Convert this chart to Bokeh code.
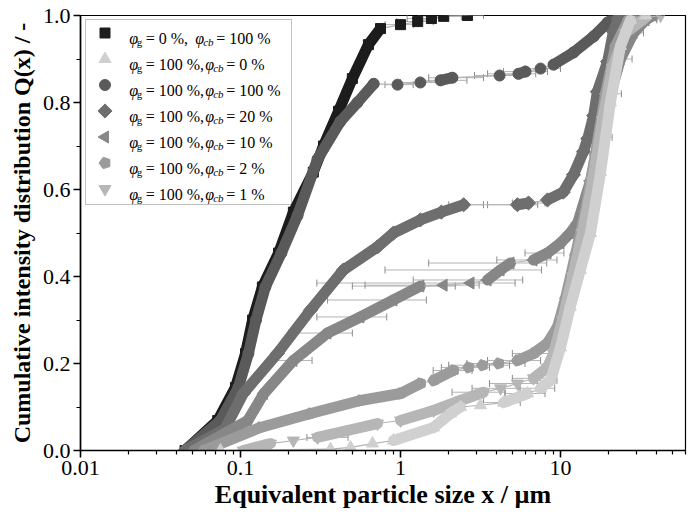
import math
from bokeh.plotting import figure
from bokeh.models import (Range1d, FixedTicker, ColumnDataSource, Whisker, TeeHead,
                          Label, BoxAnnotation, NumeralTickFormatter)
from bokeh.embed import file_html
from bokeh.resources import INLINE

# ---------------- data ----------------
# phi_g = 0 %, phi_cb = 100 %  (squares)
sq_x = [0.045, 0.072, 0.093, 0.1075, 0.119, 0.137, 0.173, 0.214, 0.285, 0.33, 0.41, 0.50, 0.63, 0.75, 1.0, 1.28, 1.56, 1.86, 2.62]
sq_y = [0.0, 0.069, 0.145, 0.223, 0.30, 0.376, 0.454, 0.548, 0.64, 0.70, 0.78, 0.855, 0.933, 0.97, 0.979, 0.986, 0.993, 0.998, 1.0]
sq_err_y = [0.979, 0.986, 0.993, 0.998, 1.0]
sq_err_lo = [0.8, 0.95, 1.1, 1.3, 2.0]
sq_err_hi = [1.2, 1.6, 2.0, 2.4, 3.3]

# phi_g = 100 %, phi_cb = 0 %  (up triangles)
ut_x = [0.075, 0.365, 0.487, 0.668, 0.904, 1.61, 2.05, 2.37, 3.16, 4.40, 6.22, 7.5, 8.66, 10.0, 11.5, 13.3, 15.4, 17.8, 20.5, 23.7, 27.4, 34.0]
ut_y = [0.0, 0.003, 0.007, 0.016, 0.023, 0.053, 0.085, 0.10, 0.104, 0.11, 0.131, 0.143, 0.161, 0.237, 0.33, 0.415, 0.5, 0.64, 0.8, 0.93, 0.99, 1.0]
ut_err_y = [0.11, 0.131, 0.143, 0.161]
ut_err_lo = [3.3, 4.5, 5.5, 6.8]
ut_err_hi = [5.6, 8.0, 9.2, 9.5]

# phi_g = 100 %, phi_cb = 100 %  (circles)
ci_x = [0.045, 0.075, 0.097, 0.112, 0.125, 0.143, 0.18, 0.227, 0.303, 0.42, 0.538, 0.68, 0.958, 1.33, 1.78, 2.11, 4.16, 5.46, 6.04, 7.5, 9.04, 12.05, 16.1, 19.7, 23.0]
ci_y = [0.0, 0.069, 0.145, 0.223, 0.30, 0.376, 0.454, 0.54, 0.67, 0.756, 0.80, 0.843, 0.841, 0.846, 0.851, 0.857, 0.862, 0.866, 0.871, 0.878, 0.887, 0.915, 0.952, 0.984, 1.0]
ci_err_y = [0.841, 0.846, 0.851, 0.857, 0.862, 0.866, 0.871, 0.878]
ci_err_lo = [0.8, 1.0, 1.3, 1.5, 2.9, 3.5, 4.4, 6.0]
ci_err_hi = [1.2, 1.75, 2.6, 3.3, 5.6, 7.0, 8.3, 10.0]

# phi_g = 100 %, phi_cb = 20 %  (diamonds)
di_x = [0.045, 0.08, 0.104, 0.17, 0.274, 0.44, 0.718, 0.904, 1.33, 1.8, 2.48, 5.38, 6.31, 8.29, 10.4, 12.05, 13.9, 14.8, 16.1, 17.0, 19.7, 21.4, 23.0, 25.0]
di_y = [0.0, 0.05, 0.131, 0.223, 0.323, 0.415, 0.468, 0.50, 0.53, 0.548, 0.565, 0.565, 0.569, 0.576, 0.594, 0.634, 0.687, 0.717, 0.77, 0.825, 0.894, 0.963, 0.993, 1.0]
di_err_y = [0.565, 0.565, 0.569]
di_err_lo = [2.0, 3.5, 5.0]
di_err_hi = [3.3, 7.2, 8.0]

# phi_g = 100 %, phi_cb = 10 %  (left triangles)
lt_x = [0.051, 0.111, 0.14, 0.214, 0.35, 0.562, 0.904, 1.33, 1.86, 2.74, 3.5, 4.22, 4.87, 6.78, 8.29, 10.0, 11.5, 12.8, 15.4, 17.8, 20.5, 23.7, 28.6, 34.0, 38.0]
lt_y = [0.0, 0.069, 0.131, 0.207, 0.27, 0.307, 0.346, 0.378, 0.38, 0.385, 0.392, 0.415, 0.431, 0.438, 0.454, 0.477, 0.50, 0.523, 0.62, 0.72, 0.82, 0.90, 0.96, 0.99, 1.0]
lt_err_y = [0.207, 0.27, 0.307, 0.346, 0.378, 0.38, 0.385, 0.392, 0.415, 0.431, 0.438, 0.454, 0.72, 0.82, 0.90, 0.96, 0.99]
lt_err_lo = [0.15, 0.2, 0.3, 0.35, 0.5, 0.6, 0.3, 1.2, 0.8, 1.5, 4.0, 6.0, 15.0, 17.0, 20.0, 24.0, 29.0]
lt_err_hi = [0.28, 0.5, 0.82, 1.45, 2.2, 3.1, 5.2, 5.8, 7.6, 8.2, 9.5, 10.5, 21.0, 24.0, 28.0, 33.0, 40.0]

# phi_g = 100 %, phi_cb = 2 %  (pentagons)
pe_x = [0.059, 0.133, 0.274, 0.562, 1.0, 1.33, 1.61, 2.14, 2.66, 3.25, 4.10, 5.38, 6.78, 8.29, 9.58, 10.75, 12.4, 14.3, 16.5, 19.1, 22.1, 26.6, 31.6]
pe_y = [0.0, 0.053, 0.085, 0.115, 0.131, 0.154, 0.161, 0.184, 0.191, 0.196, 0.20, 0.207, 0.223, 0.247, 0.284, 0.35, 0.45, 0.55, 0.68, 0.82, 0.93, 0.99, 1.0]
pe_err_y = [0.184, 0.191, 0.196, 0.20, 0.207, 0.223]
pe_err_lo = [1.6, 1.8, 2.0, 2.6, 3.5, 5.0]
pe_err_hi = [2.8, 3.6, 4.8, 6.0, 7.5, 8.6]

# phi_g = 100 %, phi_cb = 1 %  (down triangles)
dt_x = [0.104, 0.154, 0.214, 0.303, 0.466, 0.718, 1.0, 1.61, 2.37, 3.30, 4.22, 5.38, 6.78, 8.29, 9.04, 10.3, 11.9, 13.7, 15.85, 18.3, 21.1, 25.5, 34.0, 42.2]
dt_y = [0.0, 0.016, 0.023, 0.03, 0.046, 0.062, 0.069, 0.092, 0.115, 0.134, 0.143, 0.154, 0.166, 0.191, 0.223, 0.30, 0.40, 0.50, 0.62, 0.76, 0.88, 0.96, 0.995, 1.0]
dt_err_y = [0.03, 0.134, 0.143, 0.154, 0.166]
dt_err_lo = [0.26, 2.1, 2.8, 3.6, 5.0]
dt_err_hi = [0.47, 4.5, 5.6, 7.2, 8.6]

x_ticks = [0.01, 0.1, 1, 10]
x_tick_labels = ["0.01", "0.1", "1", "10"]
y_ticks = [0.0, 0.2, 0.4, 0.6, 0.8, 1.0]
legend_g = ["0", "100", "100", "100", "100", "100", "100"]
legend_cb = ["100", "0", "100", "20", "10", "2", "1"]

# ---------------- figure ----------------
W, H = 691, 519
BL, BR, BT, BB = 80, 6, 15, 69
XMIN, XMAX = 0.01, 60.4
FW, FH = W - BL - BR, H - BT - BB
SERIF = "Liberation Serif"

p = figure(width=W, height=H, x_axis_type="log",
           x_range=Range1d(XMIN, XMAX), y_range=Range1d(0.0, 1.0),
           output_backend="svg", toolbar_location=None,
           min_border_left=BL, min_border_right=BR, min_border_top=BT, min_border_bottom=BB)
p.grid.visible = False
p.outline_line_color = "black"
p.outline_line_width = 1.2
p.background_fill_color = "white"
p.border_fill_color = "white"

minor_x = []
for dec in [0.01, 0.1, 1, 10]:
    for k in range(2, 10):
        v = round(dec * k, 4)
        if v <= XMAX:
            minor_x.append(v)
p.xaxis.ticker = FixedTicker(ticks=x_ticks, minor_ticks=minor_x)
p.xaxis.major_label_overrides = {t: l for t, l in zip(x_ticks, x_tick_labels)}
p.yaxis.ticker = FixedTicker(ticks=y_ticks, minor_ticks=[0.1, 0.3, 0.5, 0.7, 0.9])
p.yaxis.formatter = NumeralTickFormatter(format="0.0")

for ax in (p.xaxis, p.yaxis):
    ax.axis_line_width = 1.6
    ax.axis_line_color = "black"
    ax.major_tick_line_width = 1.6
    ax.minor_tick_line_width = 1.2
    ax.major_tick_in = 0
    ax.major_tick_out = 7
    ax.minor_tick_in = 0
    ax.minor_tick_out = 4
    ax.major_label_text_font = SERIF
    ax.major_label_text_font_size = "22px"
    ax.major_label_text_color = "black"
    ax.axis_label_text_font = SERIF
    ax.axis_label_text_font_style = "bold"
    ax.axis_label_text_color = "black"
    ax.major_label_standoff = 3

p.xaxis.axis_label = "Equivalent particle size x / µm"
p.xaxis.axis_label_text_font_size = "26px"
p.xaxis.axis_label_standoff = 2
p.yaxis.axis_label = "Cumulative intensity distribution Q(x) / -"
p.yaxis.axis_label_text_font_size = "24px"
p.yaxis.axis_label_standoff = 5

DEC = FW / math.log10(XMAX / XMIN)   # px per decade
PY = FH / 1.0                        # px per unit of y
BAR_COLOR = "#b4b4b4"
CAP_COLOR = "#8c8c8c"


def draw_markers(xs, ys, color, marker, size, angle):
    if marker == "pentagon":
        try:
            p.ngon(x=xs, y=ys, radius=size / 2.0, radius_units="screen", n=5,
                   angle=math.pi / 2, fill_color=color, line_color=color)
            return
        except Exception:
            marker = "hex"
    p.scatter(x=xs, y=ys, marker=marker, size=size, angle=angle,
              fill_color=color, line_color=color)


def draw_series(xs, ys, color, marker, size, angle=0.0, ey=None, elo=None, ehi=None):
    if ey:
        src = ColumnDataSource(dict(base=ey, lower=elo, upper=ehi))
        p.add_layout(Whisker(source=src, base="base", lower="lower", upper="upper",
                             dimension="width", line_color=BAR_COLOR, line_width=1,
                             upper_head=TeeHead(size=7, line_color=CAP_COLOR, line_width=1),
                             lower_head=TeeHead(size=7, line_color=CAP_COLOR, line_width=1)))
    widths, colors = [], []
    for i in range(len(xs) - 1):
        dxp = DEC * abs(math.log10(xs[i + 1] / xs[i]))
        dyp = PY * abs(ys[i + 1] - ys[i])
        if dyp < 6 and dxp > 12:
            widths.append(1.2)
            colors.append(BAR_COLOR)
        else:
            widths.append(11)
            colors.append(color)
    p.segment(x0=xs[:-1], y0=ys[:-1], x1=xs[1:], y1=ys[1:],
              line_width=widths, line_color=colors, line_cap="round")
    draw_markers(xs, ys, color, marker, size, angle)


C_SQ, C_UT, C_CI, C_DI, C_LT, C_PE, C_DT = ("#1c1c1c", "#d0d0d0", "#5a5a5a", "#6e6e6e",
                                             "#878787", "#9b9b9b", "#b6b6b6")
STYLES = [
    (C_SQ, "square", 10, 0.0),
    (C_UT, "triangle", 12, 0.0),
    (C_CI, "circle", 11, 0.0),
    (C_DI, "square", 10, math.pi / 4),
    (C_LT, "triangle", 12, math.pi / 2),
    (C_PE, "pentagon", 12, 0.0),
    (C_DT, "inverted_triangle", 12, 0.0),
]

draw_series(sq_x, sq_y, *STYLES[0], sq_err_y, sq_err_lo, sq_err_hi)
draw_series(ci_x, ci_y, *STYLES[2], ci_err_y, ci_err_lo, ci_err_hi)
draw_series(di_x, di_y, *STYLES[3], di_err_y, di_err_lo, di_err_hi)
draw_series(lt_x, lt_y, *STYLES[4], lt_err_y, lt_err_lo, lt_err_hi)
draw_series(pe_x, pe_y, *STYLES[5], pe_err_y, pe_err_lo, pe_err_hi)
draw_series(dt_x, dt_y, *STYLES[6], dt_err_y, dt_err_lo, dt_err_hi)
draw_series(ut_x, ut_y, *STYLES[1], ut_err_y, ut_err_lo, ut_err_hi)


# ---------------- legend (pixel layout -> data coords) ----------------
def px2x(px):
    return XMIN * 10 ** ((px - BL) / DEC)


def py2y(py):
    return (BT + FH - py) / PY


p.add_layout(BoxAnnotation(left=px2x(85), right=px2x(291), top=py2y(19), bottom=py2y(204),
                           fill_color="white", fill_alpha=1.0, line_color="#333333",
                           line_width=1, level="underlay"))

TX = 128.7
for i, (st, g, cb) in enumerate(zip(STYLES, legend_g, legend_cb)):
    rpy = 32.5 + 26 * i
    color, marker, size, angle = st
    draw_markers([px2x(104.5)], [py2y(rpy)], color, marker, size, angle)
    if i == 0:
        offs = [0, 7.5, 16.5, 66, 74, 87]
    else:
        offs = [0, 7.5, 16.5, 76, 84, 97]
    pieces = [
        ("φ", offs[0], "italic", "16px", 5),
        ("g", offs[1], "normal", "11px", 9),
        ("= " + g + " %,", offs[2], "normal", "16px", 5),
        ("φ", offs[3], "italic", "16px", 5),
        ("cb", offs[4], "italic", "11px", 9),
        ("= " + cb + " %", offs[5], "normal", "16px", 5),
    ]
    for txt, off, style, fs, dy in pieces:
        p.add_layout(Label(x=px2x(TX), y=py2y(rpy + dy), x_offset=off, text=txt,
                           text_font=SERIF, text_font_size=fs, text_font_style=style,
                           text_color="black", text_baseline="alphabetic",
                           text_align="left"))

open("out.html", "w").write(file_html(p, INLINE))
